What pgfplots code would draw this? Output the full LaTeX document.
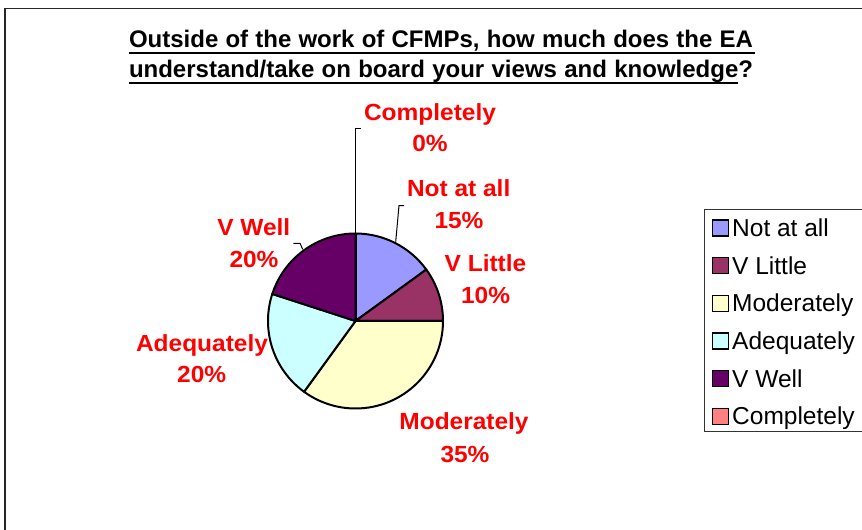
\documentclass[border=0pt]{standalone}
\usepackage{pgfplots}
\pgfplotsset{compat=1.18}
\usepackage{fontspec}
\setmainfont{Liberation Sans}
\newfontfamily\lblfont[FakeStretch=1.05]{Liberation Sans}
\definecolor{cNot}{HTML}{9999FF}
\definecolor{cLit}{HTML}{993366}
\definecolor{cMod}{HTML}{FFFFCC}
\definecolor{cAde}{HTML}{CCFFFF}
\definecolor{cWel}{HTML}{660066}
\definecolor{cCom}{HTML}{FF8080}
\definecolor{lblred}{HTML}{FF0000}
\newcommand\lbl[3]{\node[anchor=base,inner sep=0,text=lblred,font=\lblfont\bfseries\fontsize{23.3bp}{26bp}\selectfont] at (axis cs:#1,#2) {#3};}
\newcommand\leg[3]{%
  \filldraw[fill=#2,draw=black,line width=1.5bp] (axis cs:712.5,#1-8) rectangle (axis cs:728.5,#1+8);
  \node[anchor=base west,inner sep=0,font=\fontsize{24.5bp}{28bp}\selectfont] at (axis cs:732,#1+8.5) {#3};}
\begin{document}
\begin{tikzpicture}
\begin{axis}[width=862bp,height=530bp,scale only axis,
  xmin=0,xmax=862,ymin=0,ymax=530,y dir=reverse,hide axis,clip=false]
\coordinate (bl) at (axis cs:0,530);
\coordinate (tr) at (axis cs:862,0);
% outer chart border
\draw[line width=1.3bp,black!85] (axis cs:5,560) -- (axis cs:5,8.5) -- (axis cs:880,8.5);
% title
\node[anchor=base,inner sep=0,font=\bfseries\fontsize{24bp}{28bp}\selectfont] at (axis cs:441,48)
  {\makebox[624bp][s]{Outside of the work of CFMPs, how much does the EA}};
\node[anchor=base,inner sep=0,font=\bfseries\fontsize{24bp}{28bp}\selectfont] at (axis cs:441,78)
  {\makebox[624bp][s]{understand/take on board your views and knowledge?}};
\draw[line width=2bp] (axis cs:129,53.3) -- (axis cs:755,53.3);
\draw[line width=2bp] (axis cs:129,83.3) -- (axis cs:738,83.3);
% pie: values in percent, clockwise from 12 o'clock
\foreach \v/\c [remember=\a as \astart (initially 90)] in {15/cNot,10/cLit,35/cMod,20/cAde,20/cWel,0/cCom} {
  \pgfmathsetmacro\a{\astart-3.6*\v}
  \edef\temp{\noexpand\filldraw[fill=\c,draw=black,line width=2bp,line join=round]
    (axis cs:355.5,321) -- ++(\astart:87.5bp) arc[start angle=\astart,end angle=\a,radius=87.5bp] -- cycle;}
  \temp
}
% leader lines
\draw[line width=1bp] (axis cs:355.5,234) -- (axis cs:355.5,128.5) -- (axis cs:360.5,128.5);
\draw[line width=1bp] (axis cs:395.7,241.7) -- (axis cs:399,205.7) -- (axis cs:404,205.7);
\draw[line width=1bp] (axis cs:302.7,249.3) -- (axis cs:300,243.3) -- (axis cs:293.3,243.3);
% data labels
\lbl{430}{120.7}{Completely}
\lbl{430}{151.7}{0\%}
\lbl{458.7}{196.7}{Not at all}
\lbl{459}{228.3}{15\%}
\lbl{485.5}{271.7}{V Little}
\lbl{485.6}{303.3}{10\%}
\lbl{464}{430}{Moderately}
\lbl{465}{462.7}{35\%}
\lbl{202}{351.7}{Adequately}
\lbl{201.7}{382.7}{20\%}
\lbl{253.8}{236}{V Well}
\lbl{254}{267.7}{20\%}
% legend
\draw[line width=1bp,black!80] (axis cs:880,209.5) -- (axis cs:704.5,209.5) -- (axis cs:704.5,431.5) -- (axis cs:880,431.5);
\leg{228}{cNot}{Not at all}
\leg{265.7}{cLit}{V Little}
\leg{303.3}{cMod}{Moderately}
\leg{341}{cAde}{Adequately}
\leg{378.6}{cWel}{V Well}
\leg{416.3}{cCom}{Completely}
\end{axis}
\pgfresetboundingbox
\path[use as bounding box] (bl) rectangle (tr);
\end{tikzpicture}
\end{document}
